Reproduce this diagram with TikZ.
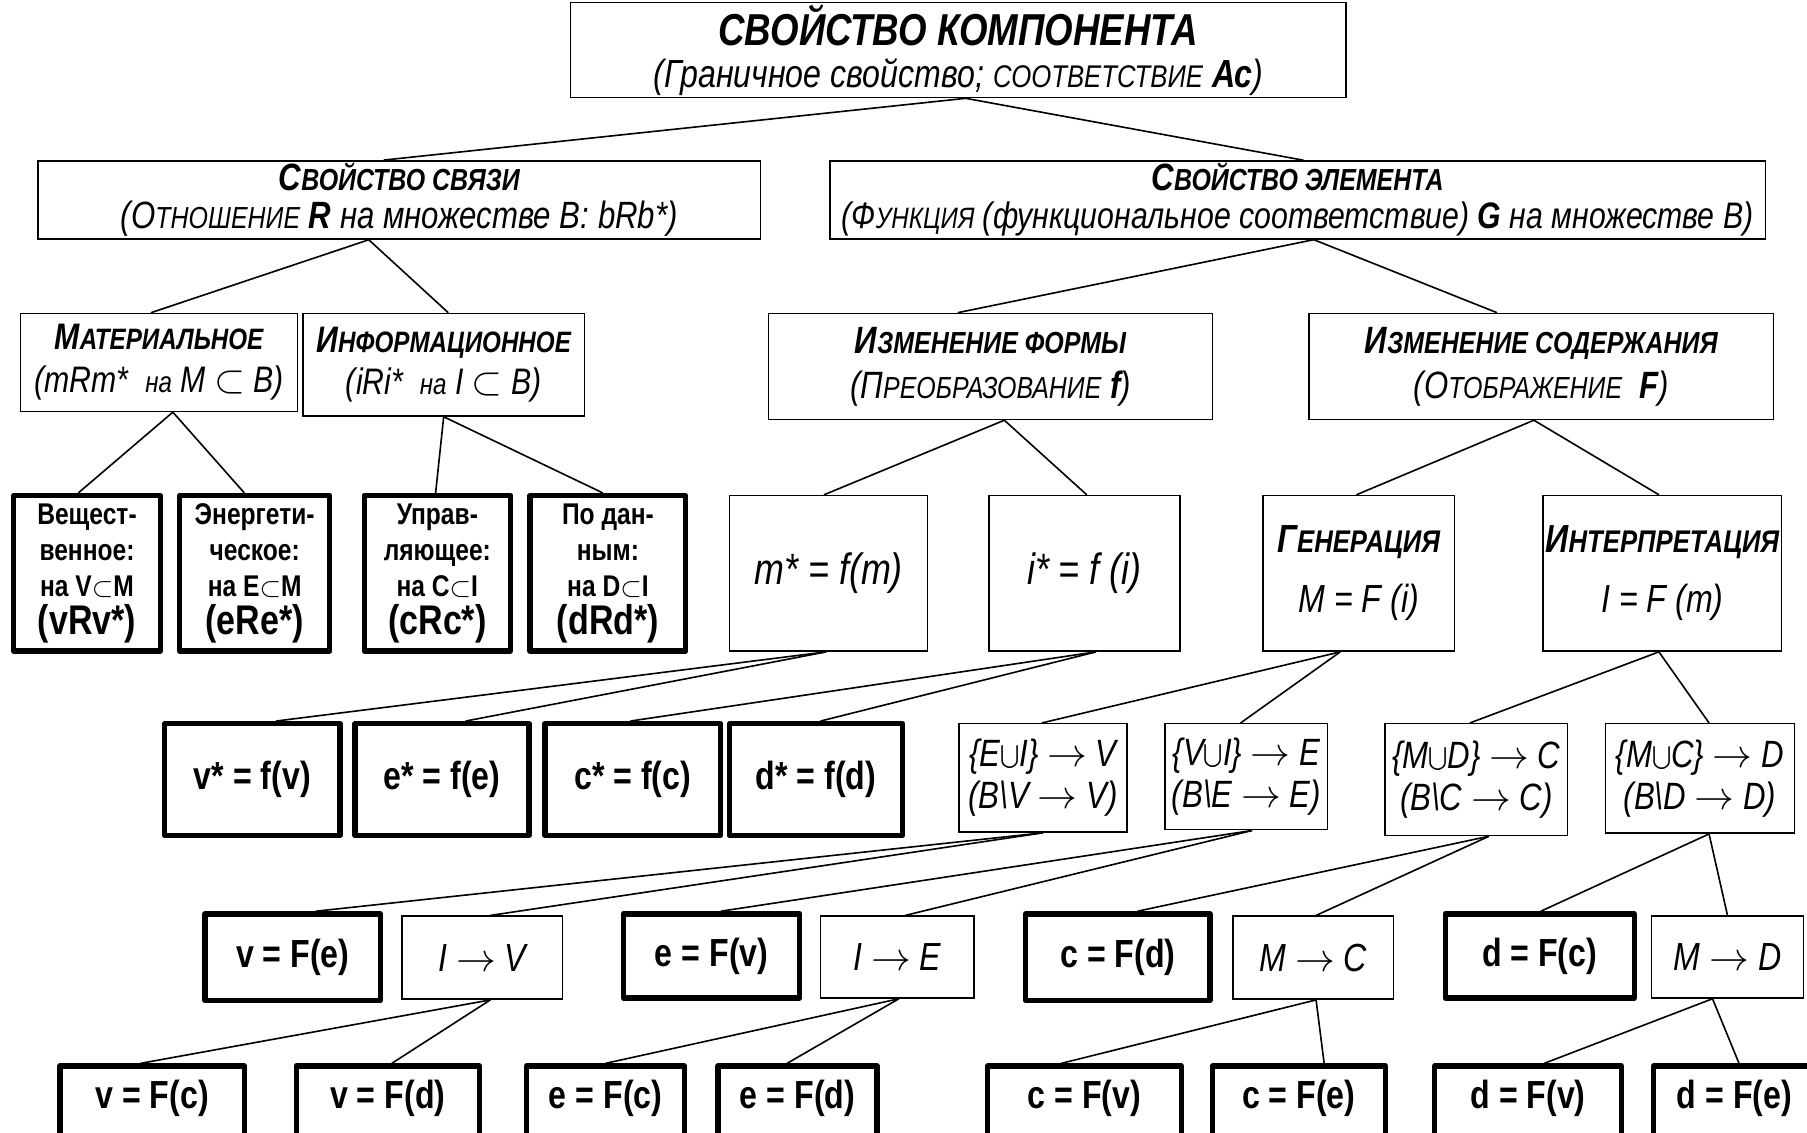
\documentclass[tikz,border=0pt]{standalone}
\usepackage{fontspec}
\setmainfont{Liberation Sans}[FakeStretch=0.82]
\usetikzlibrary{calc}
\makeatletter
\newcommand\smc[1]{{\fontsize{0.8\dimexpr\f@size pt\relax}{0pt}\selectfont #1}}
\makeatother
\newcommand\fsz[2]{\fontsize{#1}{#2}\selectfont}
\newcommand\bx[7]{\node[#2, minimum width={(#5-(#3))*0.5pt}, minimum height={(#6-(#4))*0.5pt}] (#1) at ({(#3+#5)/2},{(#4+#6)/2}) {#7};}
\newcommand\lnk[4]{\draw[link] ($(#1.south)+(#2,0)$) -- ($(#3.north)+(#4,0)$);}
\begin{document}
\begin{tikzpicture}[x=0.5pt,y=-0.5pt,
  box/.style={draw, line width=0.65pt, align=center, inner sep=1pt},
  thickbox/.style={box, line width=2.3pt, line join=round},
  lvlthree/.style={thickbox, font=\fsz{13}{15.5}\bfseries},
  botbox/.style={thickbox, font=\fsz{17}{17}\bfseries, text height=12pt, text depth=15pt},
  link/.style={line width=0.7pt}]
\useasboundingbox (0,0) rectangle (1568,983);
\clip (0,0) rectangle (1568,983);
% level 0
\bx{top}{box, font=\fsz{17}{18}}{495}{8}{1168}{79}{{\fsz{19.4}{18}\bfseries\itshape СВОЙСТВО КОМПОНЕНТА}\\{\itshape (Граничное свойство; \smc{СООТВЕТСТВИЕ} \textbf{Ас})}}
% level 1
\bx{l1a}{box, font=\fsz{16.5}{16.5}}{33}{140}{660}{207}{{\bfseries\itshape С\smc{ВОЙСТВО СВЯЗИ}}\\{\itshape (О\smc{ТНОШЕНИЕ} \textbf{R} на множестве B: bRb*)}}
\bx{l1b}{box, font=\fsz{16}{16.5}}{720}{140}{1532}{207}{{\fsz{16.5}{16.5}\bfseries\itshape С\smc{ВОЙСТВО ЭЛЕМЕНТА}}\\{\itshape (Ф\smc{УНКЦИЯ} (функциональное соответствие) \textbf{G} на множестве B)}}
% level 2
\bx{mat}{box, font=\fsz{16}{18.5}}{18}{272}{258}{357}{{\bfseries\itshape М\smc{АТЕРИАЛЬНОЕ}}\\{\itshape (mRm*\ \ \smc{на} M $\subset$ B)}}
\bx{inf}{box, font=\fsz{16}{18.5}}{263}{272}{507}{361}{{\bfseries\itshape И\smc{НФОРМАЦИОННОЕ}}\\{\itshape (iRi*\ \ \smc{на} I $\subset$ B)}}
\bx{izf}{box, font=\fsz{16.5}{19.5}}{667}{272}{1052}{364}{{\bfseries\itshape И\smc{ЗМЕНЕНИЕ ФОРМЫ}}\\{\itshape (П\smc{РЕОБРАЗОВАНИЕ} \textbf{f})}}
\bx{izs}{box, font=\fsz{16.5}{19.5}}{1136}{272}{1539}{364}{{\bfseries\itshape И\smc{ЗМЕНЕНИЕ СОДЕРЖАНИЯ}}\\{\itshape (О\smc{ТОБРАЖЕНИЕ}\ \ \textbf{F})}}
% level 3
\bx{vesh}{lvlthree}{12}{430}{139}{565}{Вещест-\\венное:\\на V$\subset$M\\[1pt]{\fsz{18}{16}(vRv*)}}
\bx{energ}{lvlthree}{156}{430}{286}{565}{Энергети-\\ческое:\\на E$\subset$M\\[1pt]{\fsz{18}{16}(eRe*)}}
\bx{upr}{lvlthree}{316}{430}{443}{565}{Управ-\\ляющее:\\на C$\subset$I\\[1pt]{\fsz{18}{16}(cRc*)}}
\bx{podan}{lvlthree}{460}{430}{595}{565}{По дан-\\ным:\\на D$\subset$I\\[1pt]{\fsz{18}{16}(dRd*)}}
\bx{mstar}{box, font=\fsz{19}{20}\itshape}{633}{430}{805}{565}{m* = f(m)}
\bx{istar}{box, font=\fsz{19}{20}\itshape}{858}{430}{1024}{565}{i* = f (i)}
\bx{gen}{box, font=\fsz{17}{26}}{1096}{430}{1262}{565}{{\bfseries\itshape Г\smc{ЕНЕРАЦИЯ}}\\{\itshape M = F (i)}}
\bx{interp}{box, font=\fsz{17}{26}}{1340}{430}{1545}{565}{{\bfseries\itshape И\smc{НТЕРПРЕТАЦИЯ}}\\{\itshape I = F (m)}}
% level 4
\bx{vstar}{thickbox, font=\fsz{17}{17}\bfseries}{143}{628}{295}{725}{v* = f(v)}
\bx{estar}{thickbox, font=\fsz{17}{17}\bfseries}{308}{628}{459}{725}{e* = f(e)}
\bx{cstar}{thickbox, font=\fsz{17}{17}\bfseries}{473}{628}{625}{725}{c* = f(c)}
\bx{dstar}{thickbox, font=\fsz{17}{17}\bfseries}{633}{628}{783}{725}{d* = f(d)}
\bx{eui}{box, font=\fsz{16.5}{18}\itshape}{832}{628}{978}{722}{\{E$\bigcup$I\} $\rightarrow$ V\\(B\textbackslash V $\rightarrow$ V)}
\bx{vui}{box, font=\fsz{16.5}{18}\itshape}{1011}{628}{1152}{720}{\{V$\bigcup$I\} $\rightarrow$ E\\(B\textbackslash E $\rightarrow$ E)}
\bx{mud}{box, font=\fsz{16.5}{18}\itshape}{1202}{628}{1360}{725}{\{M$\bigcup$D\} $\rightarrow$ C\\(B\textbackslash C $\rightarrow$ C)}
\bx{muc}{box, font=\fsz{16.5}{18}\itshape}{1393}{628}{1557}{723}{\{M$\bigcup$C\} $\rightarrow$ D\\(B\textbackslash D $\rightarrow$ D)}
% level 5
\bx{vfe}{thickbox, font=\fsz{17}{17}\bfseries}{178}{793}{330}{868}{v = F(e)}
\bx{iv}{box, font=\fsz{17}{17}\itshape}{349}{795}{488}{867}{I $\rightarrow$ V}
\bx{efv}{thickbox, font=\fsz{17}{17}\bfseries}{541}{793}{694}{866}{e = F(v)}
\bx{ie}{box, font=\fsz{17}{17}\itshape}{712}{795}{845}{866}{I $\rightarrow$ E}
\bx{cfd}{thickbox, font=\fsz{17}{17}\bfseries}{890}{793}{1050}{868}{c = F(d)}
\bx{mc}{box, font=\fsz{17}{17}\itshape}{1070}{795}{1209}{867}{M $\rightarrow$ C}
\bx{dfc}{thickbox, font=\fsz{17}{17}\bfseries}{1254}{793}{1418}{866}{d = F(c)}
\bx{md}{box, font=\fsz{17}{17}\itshape}{1433}{795}{1565}{866}{M $\rightarrow$ D}
% level 6
\bx{vfc}{botbox}{52}{925}{212}{1005}{v = F(c)}
\bx{vfd}{botbox}{257}{925}{416}{1005}{v = F(d)}
\bx{efc}{botbox}{457}{925}{594}{1005}{e = F(c)}
\bx{efd}{botbox}{623}{925}{761}{1005}{e = F(d)}
\bx{cfv}{botbox}{857}{925}{1025}{1005}{c = F(v)}
\bx{cfe}{botbox}{1052}{925}{1202}{1005}{c = F(e)}
\bx{dfv}{botbox}{1245}{925}{1407}{1005}{d = F(v)}
\bx{dfe}{botbox}{1435}{925}{1575}{1005}{d = F(e)}
% connectors
\lnk{top}{6.5}{l1a}{-13.5}
\lnk{top}{6.5}{l1b}{5}
\lnk{l1a}{-26.5}{mat}{-7}
\lnk{l1a}{-26.5}{inf}{4}
\lnk{l1b}{14}{izf}{-28.5}
\lnk{l1b}{14}{izs}{-38.5}
\lnk{mat}{12}{vesh}{-7.5}
\lnk{mat}{12}{energ}{-9}
\lnk{inf}{0}{upr}{-1.5}
\lnk{inf}{0}{podan}{-4.5}
\lnk{izf}{12}{mstar}{-4}
\lnk{izf}{12}{istar}{2}
\lnk{izs}{-6.5}{gen}{-2}
\lnk{izs}{-6.5}{interp}{-3}
\lnk{mstar}{-2}{vstar}{20.5}
\lnk{mstar}{-2}{estar}{20.5}
\lnk{istar}{10}{cstar}{-2}
\lnk{istar}{10}{dstar}{4}
\lnk{gen}{-16}{eui}{-1}
\lnk{gen}{-16}{vui}{-5}
\lnk{interp}{-3}{mud}{-5.5}
\lnk{interp}{-3}{muc}{8}
\lnk{eui}{0}{vfe}{20}
\lnk{eui}{0}{iv}{7}
\lnk{vui}{5}{efv}{8}
\lnk{vui}{5}{ie}{7}
\lnk{mud}{11}{cfd}{17}
\lnk{mud}{11}{mc}{2.5}
\lnk{muc}{8}{dfc}{1}
\lnk{muc}{8}{md}{0}
\lnk{iv}{7}{vfc}{-10}
\lnk{iv}{7}{vfd}{3.5}
\lnk{ie}{1.5}{efc}{0}
\lnk{ie}{1.5}{efd}{-9}
\lnk{mc}{2.5}{cfv}{-20}
\lnk{mc}{2.5}{cfe}{22}
\lnk{md}{-13}{dfv}{14}
\lnk{md}{-13}{dfe}{4}
\end{tikzpicture}
\end{document}
